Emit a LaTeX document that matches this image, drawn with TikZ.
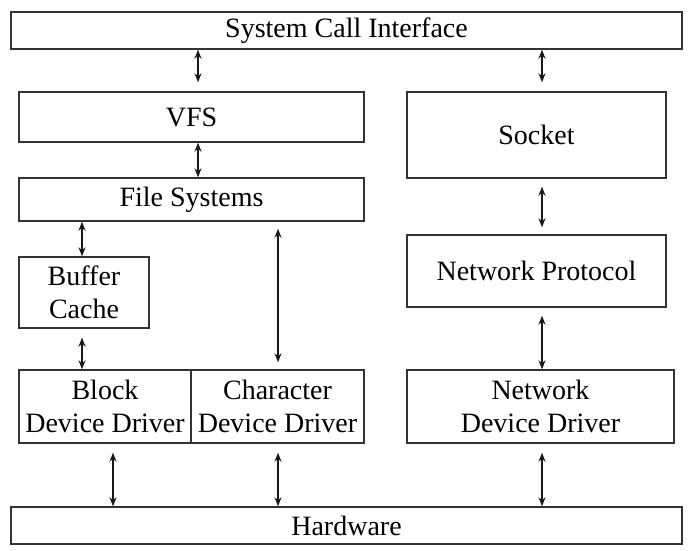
\documentclass[tikz,border=0pt]{standalone}
\usepackage{fontspec}
\setmainfont{Liberation Serif}
\usetikzlibrary{arrows.meta}
\begin{document}
\begin{tikzpicture}[x=1pt,y=-1pt,
  box/.style={draw=black!80, line width=1.4pt, fill=white, inner sep=0pt, align=center,
    text=black, font=\fontsize{28}{33}\selectfont},
  arr/.style={line width=1.3pt, draw=black!90, {Stealth[length=9pt,width=7pt]}-{Stealth[length=9pt,width=7pt]}}]
\useasboundingbox[fill=white] (0,0) rectangle (691,550);
\node[box, minimum width=671pt, minimum height=37pt] (sci) at (346.5,30.5) {System Call Interface};
\node[box, minimum width=345pt, minimum height=50pt] (vfs) at (191.5,117) {VFS};
\node[box, minimum width=259pt, minimum height=86pt] (sock) at (536.5,135) {Socket};
\node[box, minimum width=345pt, minimum height=43pt] (fs) at (191.5,199.5) {File Systems};
\node[box, minimum width=130pt, minimum height=71pt] (buf) at (84,292.5) {Buffer\\Cache};
\node[box, minimum width=259pt, minimum height=72pt] (np) at (536.5,271) {Network Protocol};
\node[box, minimum width=172pt, minimum height=73pt] (blk) at (105,406.5) {Block\\Device Driver};
\node[box, minimum width=173pt, minimum height=73pt] (chr) at (277.5,406.5) {Character\\Device Driver};
\node[box, minimum width=267pt, minimum height=73pt] (ndd) at (540.5,406.5) {Network\\Device Driver};
\node[box, minimum width=671pt, minimum height=37pt] (hw) at (346.5,525.5) {Hardware};
% connectors
\draw[arr, shorten >=9pt] (sci.south -| 198,0) -- (vfs.north -| 198,0);
\draw[arr, shorten >=9pt] (sci.south -| 542,0) -- (sock.north -| 542,0);
\draw[arr] (vfs.south -| 198,0) -- (fs.north -| 198,0);
\draw[arr, shorten <=8pt, shorten >=7pt] (sock.south -| 542,0) -- (np.north -| 542,0);
\draw[arr] (fs.south -| 82,0) -- (buf.north -| 82,0);
\draw[arr, shorten <=7pt, shorten >=7pt] (fs.south -| 278,0) -- (chr.north -| 278,0);
\draw[arr, shorten <=9pt] (buf.south -| 82,0) -- (blk.north -| 82,0);
\draw[arr, shorten <=8pt] (np.south -| 542,0) -- (ndd.north -| 542,0);
\draw[arr, shorten <=9pt] (blk.south -| 113,0) -- (hw.north -| 113,0);
\draw[arr, shorten <=9pt] (chr.south -| 278,0) -- (hw.north -| 278,0);
\draw[arr, shorten <=9pt] (ndd.south -| 542,0) -- (hw.north -| 542,0);
\end{tikzpicture}
\end{document}
